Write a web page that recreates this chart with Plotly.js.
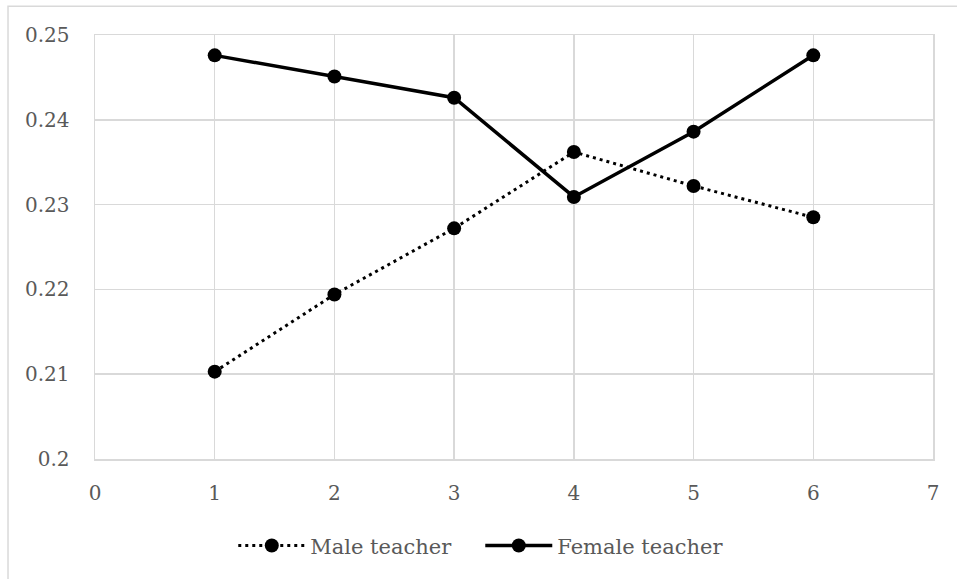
<!DOCTYPE html>
<html>
<head>
<meta charset="utf-8">
<script src="https://cdn.plot.ly/plotly-3.0.1.min.js"></script>
<style>html,body{margin:0;padding:0;background:#fff;}#chart{width:957px;height:579px;}</style>
</head>
<body>
<div id="chart"></div>
<script>
const xValues = [1, 2, 3, 4, 5, 6];
const maleTeacher = [0.2103, 0.2194, 0.2272, 0.2362, 0.2322, 0.2285];
const femaleTeacher = [0.2476, 0.2451, 0.2426, 0.2309, 0.2386, 0.2476];
const seriesNames = ["Male teacher", "Female teacher"];
const xTicks = [0, 1, 2, 3, 4, 5, 6, 7];
const yTicks = [0.2, 0.21, 0.22, 0.23, 0.24, 0.25];
const yTickLabels = ["0.2", "0.21", "0.22", "0.23", "0.24", "0.25"];

const tickFont = {family: "DejaVu Serif, Liberation Serif, serif", size: 20, color: "#595959"};
const legendFont = {family: "DejaVu Serif, Liberation Serif, serif", size: 21, color: "#595959"};

const traces = [
  {
    x: xValues, y: maleTeacher, name: seriesNames[0], type: "scatter", mode: "lines+markers",
    line: {color: "#000000", width: 3, dash: "3px,4px"},
    marker: {color: "#000000", size: 14, symbol: "circle"}
  },
  {
    x: xValues, y: femaleTeacher, name: seriesNames[1], type: "scatter", mode: "lines+markers",
    line: {color: "#000000", width: 3.5},
    marker: {color: "#000000", size: 14, symbol: "circle"}
  }
];

const layout = {
  width: 957, height: 579,
  margin: {l: 95, r: 24, t: 35, b: 120},
  paper_bgcolor: "#ffffff", plot_bgcolor: "#ffffff",
  font: tickFont,
  showlegend: true,
  legend: {orientation: "h", x: 0.165, xanchor: "left", y: -0.205, yanchor: "middle",
           font: legendFont, itemwidth: 67, entrywidth: 165, traceorder: "normal"},
  xaxis: {
    range: [0, 7], tickvals: xTicks, ticktext: xTicks.map(String),
    showgrid: true, gridcolor: "#d9d9d9", gridwidth: 1.5,
    showline: true, linecolor: "#d9d9d9", linewidth: 1.5, mirror: true,
    zeroline: false, ticks: "", ticklabelstandoff: 15, tickfont: tickFont
  },
  yaxis: {
    range: [0.2, 0.25], tickvals: yTicks, ticktext: yTickLabels,
    showgrid: true, gridcolor: "#d9d9d9", gridwidth: 1.5,
    showline: true, linecolor: "#d9d9d9", linewidth: 1.5, mirror: true,
    zeroline: false, ticks: "", ticklabelstandoff: 20, tickfont: tickFont
  },
  shapes: [
    {type: "rect", xref: "paper", yref: "paper", x0: -0.1038, x1: 1.2, y0: -0.6, y1: 1.068,
     line: {color: "#d9d9d9", width: 1.5}, fillcolor: "rgba(0,0,0,0)", layer: "below"}
  ]
};

Plotly.newPlot("chart", traces, layout, {displayModeBar: false, staticPlot: true});
</script>
</body>
</html>
